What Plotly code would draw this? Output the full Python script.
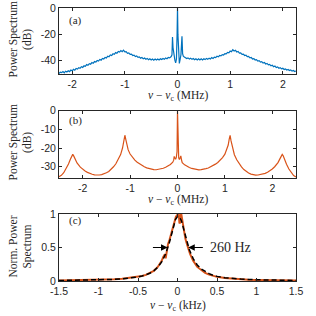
import plotly.graph_objects as go

# ---------------- Panel (a): blue spectrum (MHz, dB) ----------------
a_left_x = [-2.250, -2.225, -2.200, -2.175, -2.150, -2.125, -2.100, -2.075, -2.050, -2.025,
            -2.000, -1.975, -1.950, -1.925, -1.900, -1.875, -1.850, -1.825, -1.800, -1.775,
            -1.750, -1.725, -1.700, -1.675, -1.650, -1.625, -1.600, -1.575, -1.550, -1.525,
            -1.500, -1.475, -1.450, -1.425, -1.400, -1.375, -1.350, -1.325, -1.300, -1.275,
            -1.250, -1.225, -1.200, -1.175, -1.150, -1.125, -1.100, -1.075, -1.050, -1.025,
            -1.000, -0.975, -0.950, -0.925, -0.900, -0.875, -0.850, -0.825, -0.800, -0.775,
            -0.750, -0.725, -0.700, -0.675, -0.650, -0.625, -0.600, -0.575, -0.550, -0.525,
            -0.500, -0.475, -0.450, -0.425, -0.400, -0.375, -0.350, -0.325, -0.300, -0.275,
            -0.250, -0.225, -0.200, -0.175, -0.150]
a_left_y = [-49.6, -48.6, -49.0, -48.2, -49.1, -47.9, -48.5, -47.6, -48.2, -47.0,
            -47.6, -46.4, -47.1, -45.8, -46.3, -45.2, -45.7, -44.5, -45.0, -43.8,
            -44.2, -42.9, -43.4, -42.2, -42.6, -41.3, -41.8, -40.6, -41.0, -39.8,
            -40.2, -39.0, -39.5, -38.2, -38.6, -37.4, -37.8, -36.5, -36.9, -35.6,
            -36.0, -34.7, -35.1, -33.8, -34.3, -32.9, -33.4, -32.2, -33.1, -31.9,
            -33.2, -33.0, -34.3, -34.0, -35.2, -35.0, -36.0, -35.7, -36.8, -36.4,
            -37.4, -37.0, -38.0, -37.5, -38.5, -37.9, -38.8, -38.2, -39.2, -38.5,
            -39.4, -38.6, -39.5, -38.7, -39.4, -38.6, -39.3, -38.4, -39.0, -38.2,
            -38.8, -37.9, -38.4, -37.5, -37.8]
a_mid_x = [-0.12, -0.105, -0.095, -0.085, -0.07, -0.05, -0.035, -0.02, -0.008, 0.0,
           0.008, 0.02, 0.035, 0.05, 0.065, 0.075, 0.085, 0.097, 0.11, 0.13]
a_mid_y = [-36.8, -35.5, -22.0, -30.0, -36.0, -39.5, -41.5, -38.5, -20.0, 0.0,
           -20.0, -38.5, -42.0, -39.0, -35.5, -28.5, -21.5, -34.5, -36.5, -37.2]
a_right_x = [0.150, 0.175, 0.200, 0.225, 0.250, 0.275, 0.300, 0.325, 0.350, 0.375,
             0.400, 0.425, 0.450, 0.475, 0.500, 0.525, 0.550, 0.575, 0.600, 0.625,
             0.650, 0.675, 0.700, 0.725, 0.750, 0.775, 0.800, 0.825, 0.850, 0.875,
             0.900, 0.925, 0.950, 0.975, 1.000, 1.025, 1.050, 1.075, 1.100, 1.125,
             1.150, 1.175, 1.200, 1.225, 1.250, 1.275, 1.300, 1.325, 1.350, 1.375,
             1.400, 1.425, 1.450, 1.475, 1.500, 1.525, 1.550, 1.575, 1.600, 1.625,
             1.650, 1.675, 1.700, 1.725, 1.750, 1.775, 1.800, 1.825, 1.850, 1.875,
             1.900, 1.925, 1.950, 1.975, 2.000, 2.025, 2.050, 2.075, 2.100, 2.125,
             2.150, 2.175, 2.200, 2.225, 2.250]
a_right_y = [-37.6, -38.3, -37.8, -38.7, -38.0, -38.9, -38.3, -39.2, -38.4, -39.3,
             -38.5, -39.4, -38.5, -39.3, -38.4, -39.1, -38.2, -38.9, -38.0, -38.6,
             -37.6, -38.2, -37.2, -37.6, -36.6, -37.0, -36.0, -36.3, -35.3, -35.6,
             -34.5, -34.7, -33.6, -33.9, -32.6, -33.1, -31.6, -32.6, -32.0, -33.3,
             -32.9, -34.2, -34.0, -35.1, -34.9, -36.0, -35.8, -36.9, -36.7, -37.8,
             -37.5, -38.6, -38.3, -39.4, -39.1, -40.2, -39.9, -41.0, -40.6, -41.7,
             -41.3, -42.4, -42.0, -43.1, -42.7, -43.8, -43.4, -44.5, -44.0, -45.1,
             -44.6, -45.6, -45.2, -46.1, -45.7, -46.6, -46.2, -47.0, -46.6, -47.4,
             -47.0, -47.8, -47.3, -48.1, -47.7]

# ---------------- Panel (b): orange spectrum (MHz, dB) ----------------
b_x = [-2.50, -2.45, -2.40, -2.35, -2.30, -2.26, -2.23, -2.21, -2.19, -2.16,
       -2.12, -2.05, -2.00, -1.95, -1.90, -1.85, -1.80, -1.75, -1.70, -1.65,
       -1.60, -1.55, -1.50, -1.45, -1.40, -1.35, -1.30, -1.25, -1.20, -1.16,
       -1.13, -1.11, -1.09, -1.07, -1.04, -1.00, -0.95, -0.90, -0.85, -0.80,
       -0.75, -0.70, -0.65, -0.60, -0.55, -0.50, -0.45, -0.40, -0.35, -0.30,
       -0.25, -0.20, -0.15, -0.10, -0.08, -0.07, -0.055, -0.04, -0.025, -0.01,
       0.0, 0.01, 0.025, 0.04, 0.055, 0.07, 0.085, 0.10, 0.15, 0.20,
       0.25, 0.30, 0.35, 0.40, 0.45, 0.50, 0.55, 0.60, 0.65, 0.70,
       0.75, 0.80, 0.85, 0.90, 0.95, 1.00, 1.04, 1.07, 1.09, 1.11,
       1.13, 1.16, 1.20, 1.25, 1.30, 1.35, 1.40, 1.45, 1.50, 1.55,
       1.60, 1.65, 1.70, 1.75, 1.80, 1.85, 1.90, 1.95, 2.00, 2.05,
       2.12, 2.16, 2.19, 2.21, 2.23, 2.26, 2.30, 2.35, 2.40, 2.45, 2.50]
b_y = [-35.3, -34.6, -33.2, -31.0, -28.5, -26.0, -24.0, -23.4, -24.2, -26.0,
       -28.0, -30.2, -31.4, -32.3, -33.0, -33.6, -34.0, -34.3, -34.5, -34.4,
       -34.2, -33.8, -33.2, -32.5, -31.4, -30.0, -28.4, -26.2, -23.5, -20.0,
       -16.0, -13.2, -15.5, -18.5, -21.0, -23.2, -25.0, -26.5, -27.6, -28.5,
       -29.3, -30.0, -30.6, -31.0, -31.3, -31.5, -31.6, -31.4, -31.2, -30.8,
       -30.3, -29.6, -28.8, -27.6, -26.5, -24.5, -25.5, -26.0, -25.0, -22.0,
       0.0, -22.0, -25.3, -26.2, -24.8, -24.2, -26.4, -27.8, -29.0, -29.8,
       -30.4, -30.9, -31.3, -31.5, -31.7, -31.5, -31.4, -31.0, -30.7, -30.1,
       -29.4, -28.6, -27.7, -26.6, -25.1, -23.3, -21.0, -18.4, -15.4, -13.3,
       -16.2, -20.1, -23.6, -26.3, -28.5, -30.1, -31.5, -32.6, -33.3, -33.9,
       -34.3, -34.5, -34.4, -34.2, -33.9, -33.5, -32.9, -32.2, -31.2, -30.0,
       -27.8, -25.8, -24.0, -23.4, -24.1, -26.2, -28.7, -31.2, -33.3, -34.7, -35.4]

# ---------------- Panel (c): normalized spectrum (kHz) ----------------
c_x = [-1.50, -1.40, -1.30, -1.20, -1.10, -1.00, -0.90, -0.80, -0.70, -0.60,
       -0.50, -0.45, -0.40, -0.35, -0.30, -0.25, -0.22, -0.20, -0.18, -0.16,
       -0.15, -0.14, -0.12, -0.10, -0.08, -0.06, -0.04, -0.02, 0.00, 0.015,
       0.025, 0.035, 0.045, 0.06, 0.08, 0.10, 0.12, 0.14, 0.16, 0.18,
       0.20, 0.25, 0.30, 0.35, 0.40, 0.45, 0.50, 0.60, 0.70, 0.80,
       0.90, 1.00, 1.10, 1.20, 1.30, 1.40, 1.50]
c_data = [0.008, 0.010, 0.010, 0.012, 0.014, 0.016, 0.021, 0.026, 0.033, 0.045,
          0.062, 0.074, 0.092, 0.118, 0.152, 0.21, 0.26, 0.30, 0.36, 0.40,
          0.34, 0.42, 0.55, 0.62, 0.71, 0.80, 0.88, 0.96, 0.99, 1.00,
          0.86, 0.88, 1.02, 0.90, 0.75, 0.63, 0.55, 0.46, 0.40, 0.35,
          0.30, 0.21, 0.16, 0.12, 0.095, 0.075, 0.062, 0.044, 0.033, 0.025,
          0.020, 0.016, 0.013, 0.011, 0.009, 0.008, 0.007]

fit_x = [-1.5, -1.25, -1.0, -0.8, -0.7, -0.6, -0.5, -0.45, -0.4, -0.35,
         -0.3, -0.25, -0.2, -0.15, -0.1, -0.075, -0.05, -0.025, 0.0, 0.01,
         0.025, 0.05, 0.075, 0.1, 0.125, 0.15, 0.2, 0.25, 0.3, 0.35,
         0.4, 0.45, 0.5, 0.6, 0.7, 0.8, 1.0, 1.25, 1.5]
fit_y = [0.0075, 0.0107, 0.0163, 0.025, 0.032, 0.043, 0.061, 0.074, 0.091, 0.116,
         0.152, 0.206, 0.285, 0.405, 0.585, 0.70, 0.82, 0.92, 0.96, 0.965,
         0.955, 0.90, 0.79, 0.67, 0.56, 0.465, 0.33, 0.24, 0.18, 0.14,
         0.11, 0.085, 0.069, 0.049, 0.036, 0.028, 0.018, 0.0118, 0.0083]

# tick labels
a_xticks = [-2, -1, 0, 1, 2]
a_xtext = ["-2", "-1", "0", "1", "2"]
a_yticks = [-40, -20, 0]
a_ytext = ["-40", "-20", "0"]
b_xticks = [-2, -1, 0, 1, 2]
b_xtext = ["-2", "-1", "0", "1", "2"]
b_yticks = [-30, -20, -10, 0]
b_ytext = ["-30", "-20", "-10", "0"]
c_xticks = [-1.5, -1, -0.5, 0, 0.5, 1, 1.5]
c_xtext = ["-1.5", "-1", "-0.5", "0", "0.5", "1", "1.5"]
c_yticks = [0, 0.5, 1]
c_ytext = ["0", "0.5", "1"]

W = H = 316
BLUE = "#0072BD"
ORANGE = "#D95319"
AX = "#262626"
SERIF = "Liberation Serif, Times New Roman, serif"
SANS = "Liberation Sans, Arial, sans-serif"

def py(p):
    return 1 - p / H

def px(p):
    return p / W

a_x = a_left_x + a_mid_x + a_right_x
a_y = a_left_y + a_mid_y + a_right_y

fig = go.Figure()
fig.add_trace(go.Scatter(x=a_x, y=a_y, mode="lines", line=dict(color=BLUE, width=1.2),
                         xaxis="x", yaxis="y"))
fig.add_trace(go.Scatter(x=b_x, y=b_y, mode="lines", line=dict(color=ORANGE, width=1.2),
                         xaxis="x2", yaxis="y2"))
fig.add_trace(go.Scatter(x=c_x, y=c_data, mode="lines", line=dict(color=ORANGE, width=2),
                         xaxis="x3", yaxis="y3"))
fig.add_trace(go.Scatter(x=fit_x, y=fit_y, mode="lines", line=dict(color="black", width=1.5, dash="5px,3px"),
                         xaxis="x3", yaxis="y3"))

xdom = [px(59), px(296)]
doms = {"a": [py(74), py(8)], "b": [py(178), py(110.5)], "c": [py(281), py(214)]}

def axis(**kw):
    d = dict(showline=True, linecolor=AX, linewidth=1, mirror="ticks", ticks="inside",
             ticklen=3, tickcolor=AX, tickwidth=1, showgrid=False, zeroline=False,
             tickfont=dict(family=SANS, size=10.5, color=AX), automargin=False)
    d.update(kw)
    return d

fig.update_layout(
    width=W, height=H, margin=dict(l=0, r=0, t=0, b=0),
    paper_bgcolor="white", plot_bgcolor="white", showlegend=False,
    xaxis=axis(domain=xdom, range=[-2.25, 2.25], tickvals=a_xticks, ticktext=a_xtext, anchor="y"),
    yaxis=axis(domain=doms["a"], range=[-50, 0], tickvals=a_yticks, ticktext=a_ytext, anchor="x"),
    xaxis2=axis(domain=xdom, range=[-2.5, 2.5], tickvals=b_xticks, ticktext=b_xtext, anchor="y2"),
    yaxis2=axis(domain=doms["b"], range=[-36, 0], tickvals=b_yticks, ticktext=b_ytext, anchor="x2"),
    xaxis3=axis(domain=xdom, range=[-1.5, 1.5], tickvals=c_xticks, ticktext=c_xtext, anchor="y3"),
    yaxis3=axis(domain=doms["c"], range=[0, 1], tickvals=c_yticks, ticktext=c_ytext, anchor="x3"),
)

ann = []
tf = dict(family=SERIF, size=11.5, color=AX)
xlab = "<i>ν</i> − <i>ν</i><sub>c</sub> (MHz)"
xlab_k = "<i>ν</i> − <i>ν</i><sub>c</sub> (kHz)"
for ytop, txt in [(96, xlab), (200, xlab), (306, xlab_k)]:
    ann.append(dict(x=px(177.5), y=py(ytop), xref="paper", yref="paper", text=txt,
                    showarrow=False, font=tf, xanchor="center", yanchor="middle"))
for ymid, txt in [(40, "Power Spectrum<br>(dB)"), (143, "Power Spectrum<br>(dB)"),
                  (247, "Norm. Power<br>Spectrum")]:
    ann.append(dict(x=px(20.5), y=py(ymid), xref="paper", yref="paper", text=txt,
                    showarrow=False, font=tf, textangle=-90, xanchor="center", yanchor="middle"))
for ytop, txt in [(20.5, "(a)"), (120, "(b)"), (221, "(c)")]:
    ann.append(dict(x=px(67), y=py(ytop), xref="paper", yref="paper", text=txt,
                    showarrow=False, font=dict(family=SERIF, size=11, color=AX),
                    xanchor="left", yanchor="middle"))
# FWHM arrows
ann.append(dict(x=-0.125, y=0.5, ax=-0.33, ay=0.5, xref="x3", yref="y3", axref="x3", ayref="y3",
                text="", showarrow=True, arrowhead=2, arrowsize=1.2, arrowwidth=1.1, arrowcolor="black"))
ann.append(dict(x=0.135, y=0.5, ax=0.34, ay=0.5, xref="x3", yref="y3", axref="x3", ayref="y3",
                text="", showarrow=True, arrowhead=2, arrowsize=1.2, arrowwidth=1.1, arrowcolor="black"))
ann.append(dict(x=0.385, y=0.5, xref="x3", yref="y3", text="260 Hz", showarrow=False,
                font=dict(family=SERIF, size=14, color=AX), xanchor="left", yanchor="middle"))
fig.update_layout(annotations=ann)

fig.write_html("out.html", config={"displayModeBar": False},
               post_script="document.body.style.margin='0';document.body.style.overflow='hidden';")
